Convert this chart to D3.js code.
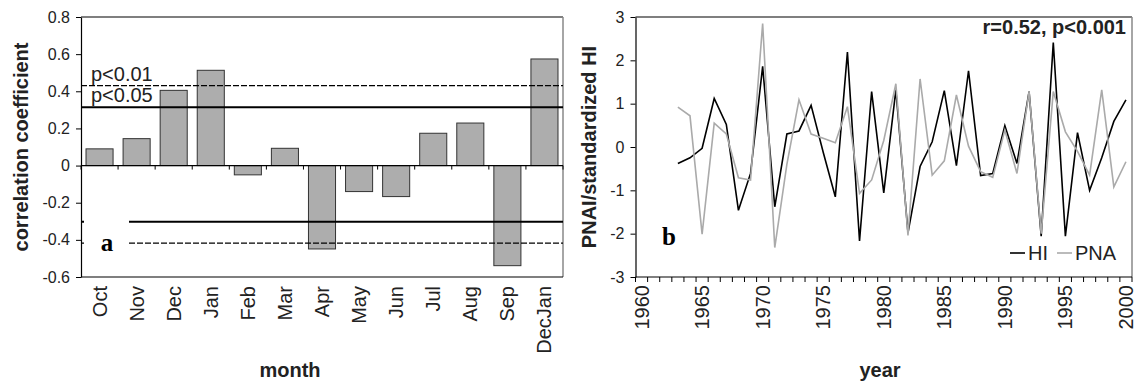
<!DOCTYPE html>
<html>
<head>
<meta charset="utf-8">
<script src="https://cdn.jsdelivr.net/npm/d3@7"></script>
<style>
  body { margin: 0; background: #fff; }
  svg { display: block; font-family: "Liberation Sans", Arial, sans-serif; }
  .domain { stroke: #000; }
</style>
</head>
<body>
<svg id="chart" width="1136" height="382"></svg>
<script>
// panel a: monthly correlations
const months = ['Oct', 'Nov', 'Dec', 'Jan', 'Feb', 'Mar', 'Apr', 'May', 'Jun', 'Jul', 'Aug', 'Sep', 'DecJan'];
const corr = [0.09, 0.145, 0.405, 0.513, -0.05, 0.093, -0.449, -0.14, -0.167, 0.174, 0.229, -0.539, 0.574];
const corrTicks = [-0.6, -0.4, -0.2, 0, 0.2, 0.4, 0.6, 0.8];
const sigLines = [
  { v: 0.43, dash: true, label: 'p<0.01' },
  { v: 0.314, dash: false, label: 'p<0.05' },
  { v: -0.302, dash: false, label: '' },
  { v: -0.418, dash: true, label: '' },
];

// panel b: yearly series
const years = d3.range(1963, 2001);
const hi = [-0.38, -0.25, -0.03, 1.12, 0.52, -1.46, -0.61, 1.86, -1.38, 0.30,
  0.37, 0.96, -0.12, -1.15, 2.19, -2.17, 1.28, -1.06, 1.32, -1.98,
  -0.45, 0.12, 1.30, -0.43, 1.76, -0.66, -0.61, 0.49, -0.38, 1.28,
  -2.06, 2.41, -2.06, 0.33, -1.00, -0.25, 0.59, 1.09];
const pna = [0.92, 0.72, -2.01, 0.55, 0.30, -0.71, -0.76, 2.85, -2.32, -0.40,
  1.09, 0.30, 0.20, 0.10, 0.93, -1.07, -0.76, 0.15, 1.46, -2.04,
  1.57, -0.65, -0.32, 1.20, 0.02, -0.57, -0.70, 0.39, -0.61, 1.28,
  -2.00, 1.28, 0.35, -0.10, -0.65, 1.32, -0.92, -0.34];
const axisYears = d3.range(1960, 2001);
const yearLabels = [1960, 1965, 1970, 1975, 1980, 1985, 1990, 1995, 2000];
const pnaTicks = [-3, -2, -1, 0, 1, 2, 3];

const svg = d3.select('#chart');

// ---------- panel a ----------
const a = { left: 81, right: 563, top: 17, bottom: 277 };

const xA = d3.scaleBand()
  .domain(months)
  .range([a.left, a.right])
  .paddingInner(0.27)
  .paddingOuter(0.135);

const yA = d3.scaleLinear().domain([-0.6, 0.8]).range([a.bottom, a.top]);

// frame: top, right, bottom
svg.append('line').attr('x1', a.left).attr('x2', a.right).attr('y1', a.top).attr('y2', a.top)
  .attr('stroke', '#000').attr('stroke-width', 1.2);
svg.append('line').attr('x1', a.right).attr('x2', a.right).attr('y1', a.top).attr('y2', a.bottom)
  .attr('stroke', '#888').attr('stroke-width', 1.5);
svg.append('line').attr('x1', a.left).attr('x2', a.right).attr('y1', a.bottom).attr('y2', a.bottom)
  .attr('stroke', '#000').attr('stroke-width', 1.2);

// y axis (plain hyphen minus like the original)
const yAxisA = svg.append('g')
  .attr('transform', `translate(${a.left},0)`)
  .call(d3.axisLeft(yA).tickValues(corrTicks).tickSizeInner(5).tickSizeOuter(0).tickPadding(6)
    .tickFormat(d => d === 0 ? '0' : d.toFixed(1)));
yAxisA.selectAll('text').attr('font-size', 16).attr('fill', '#222');
yAxisA.select('.domain').attr('stroke-width', 1.2);

// bars
svg.selectAll('.bar')
  .data(months)
  .enter()
  .append('rect')
  .attr('class', 'bar')
  .attr('x', d => xA(d))
  .attr('width', xA.bandwidth())
  .attr('y', (d, i) => yA(Math.max(0, corr[i])))
  .attr('height', (d, i) => Math.abs(yA(corr[i]) - yA(0)))
  .attr('fill', '#adadad')
  .attr('stroke', '#333')
  .attr('stroke-width', 1);

// zero line with ticks at category edges
svg.append('line').attr('x1', a.left).attr('x2', a.right).attr('y1', yA(0)).attr('y2', yA(0))
  .attr('stroke', '#000').attr('stroke-width', 1.2);
const stepA = xA.step();
svg.selectAll('.mtick')
  .data(d3.range(months.length + 1))
  .enter()
  .append('line')
  .attr('x1', i => a.left + i * stepA)
  .attr('x2', i => a.left + i * stepA)
  .attr('y1', yA(0))
  .attr('y2', yA(0) + 4)
  .attr('stroke', '#000');

// month labels
svg.selectAll('.mlab')
  .data(months)
  .enter()
  .append('text')
  .attr('transform', d => `translate(${xA(d) + xA.bandwidth() / 2 + 7},${a.bottom + 9}) rotate(-90)`)
  .attr('text-anchor', 'end')
  .attr('font-size', 20)
  .attr('fill', '#222')
  .text(d => d);

// significance lines
svg.selectAll('.sig')
  .data(sigLines)
  .enter()
  .append('line')
  .attr('x1', a.left)
  .attr('x2', a.right)
  .attr('y1', d => yA(d.v))
  .attr('y2', d => yA(d.v))
  .attr('stroke', '#000')
  .attr('stroke-width', d => d.dash ? 1.3 : 2)
  .attr('stroke-dasharray', d => d.dash ? '6,2' : null);

svg.selectAll('.siglab')
  .data(sigLines.filter(d => d.label))
  .enter()
  .append('text')
  .attr('x', a.left + 10)
  .attr('y', d => yA(d.v) - 5)
  .attr('font-size', 20)
  .attr('fill', '#222')
  .text(d => d.label);

// panel letter a (its box covers the lines)
svg.append('rect').attr('x', a.left + 3).attr('y', yA(-0.25)).attr('width', 45).attr('height', 40)
  .attr('fill', '#fff');
svg.append('text')
  .attr('x', 107)
  .attr('y', yA(-0.418) + 8)
  .attr('text-anchor', 'middle')
  .attr('font-family', '"Liberation Serif", "Times New Roman", serif')
  .attr('font-weight', 'bold')
  .attr('font-size', 25)
  .text('a');

svg.append('text')
  .attr('transform', `translate(28,${(a.top + a.bottom) / 2}) rotate(-90)`)
  .attr('text-anchor', 'middle')
  .attr('font-weight', 'bold')
  .attr('font-size', 20)
  .attr('fill', '#222')
  .text('correlation coefficient');

svg.append('text')
  .attr('x', 290)
  .attr('y', 377)
  .attr('text-anchor', 'middle')
  .attr('font-weight', 'bold')
  .attr('font-size', 20)
  .attr('fill', '#222')
  .text('month');

// ---------- panel b ----------
const b = { left: 635.5, right: 1132, top: 17, bottom: 277 };

const xB = d3.scaleBand().domain(axisYears).range([b.left, b.right]);
const yB = d3.scaleLinear().domain([-3, 3]).range([b.bottom, b.top]);
const cx = yr => xB(yr) + xB.bandwidth() / 2;

svg.append('line').attr('x1', b.left).attr('x2', b.right).attr('y1', b.top).attr('y2', b.top)
  .attr('stroke', '#000').attr('stroke-width', 1.2);
svg.append('line').attr('x1', b.right).attr('x2', b.right).attr('y1', b.top).attr('y2', b.bottom)
  .attr('stroke', '#888').attr('stroke-width', 1.5);

const yAxisB = svg.append('g')
  .attr('transform', `translate(${b.left},0)`)
  .call(d3.axisLeft(yB).tickValues(pnaTicks).tickSizeInner(5).tickSizeOuter(0).tickPadding(6)
    .tickFormat(d => String(d)));
yAxisB.selectAll('text').attr('font-size', 16).attr('fill', '#222');
yAxisB.select('.domain').attr('stroke-width', 1.2);

// x axis with a tick at every category edge
svg.append('line').attr('x1', b.left).attr('x2', b.right).attr('y1', b.bottom).attr('y2', b.bottom)
  .attr('stroke', '#000').attr('stroke-width', 1.2);
const stepB = xB.step();
svg.selectAll('.ytick')
  .data(d3.range(axisYears.length + 1))
  .enter()
  .append('line')
  .attr('x1', i => b.left + i * stepB)
  .attr('x2', i => b.left + i * stepB)
  .attr('y1', b.bottom)
  .attr('y2', b.bottom + 5)
  .attr('stroke', '#000');

svg.selectAll('.ylab')
  .data(yearLabels)
  .enter()
  .append('text')
  .attr('transform', d => `translate(${cx(d) + 7},${b.bottom + 8}) rotate(-90)`)
  .attr('text-anchor', 'end')
  .attr('font-size', 20)
  .attr('fill', '#222')
  .text(d => d);

const line = d3.line().x((d, i) => cx(years[i])).y(d => yB(d));

svg.append('path').datum(hi).attr('d', line)
  .attr('fill', 'none').attr('stroke', '#000').attr('stroke-width', 1.6);
svg.append('path').datum(pna).attr('d', line)
  .attr('fill', 'none').attr('stroke', '#aaa').attr('stroke-width', 1.6);

svg.append('text')
  .attr('x', 1126)
  .attr('y', 34)
  .attr('text-anchor', 'end')
  .attr('font-weight', 'bold')
  .attr('font-size', 20)
  .attr('fill', '#222')
  .text('r=0.52, p<0.001');

svg.append('text')
  .attr('x', 669)
  .attr('y', 245)
  .attr('text-anchor', 'middle')
  .attr('font-family', '"Liberation Serif", "Times New Roman", serif')
  .attr('font-weight', 'bold')
  .attr('font-size', 25)
  .text('b');

// legend
const legend = [{ name: 'HI', color: '#000', x: 1010 }, { name: 'PNA', color: '#aaa', x: 1057 }];
legend.forEach(d => {
  svg.append('line').attr('x1', d.x).attr('x2', d.x + 15).attr('y1', 253).attr('y2', 253)
    .attr('stroke', d.color).attr('stroke-width', 1.6);
  svg.append('text').attr('x', d.x + 18).attr('y', 260).attr('font-size', 20).attr('fill', '#222')
    .text(d.name);
});

svg.append('text')
  .attr('transform', `translate(596,${(b.top + b.bottom) / 2}) rotate(-90)`)
  .attr('text-anchor', 'middle')
  .attr('font-weight', 'bold')
  .attr('font-size', 20)
  .attr('fill', '#222')
  .text('PNAI/standardized HI');

svg.append('text')
  .attr('x', 880)
  .attr('y', 377)
  .attr('text-anchor', 'middle')
  .attr('font-weight', 'bold')
  .attr('font-size', 20)
  .attr('fill', '#222')
  .text('year');
</script>
</body>
</html>
